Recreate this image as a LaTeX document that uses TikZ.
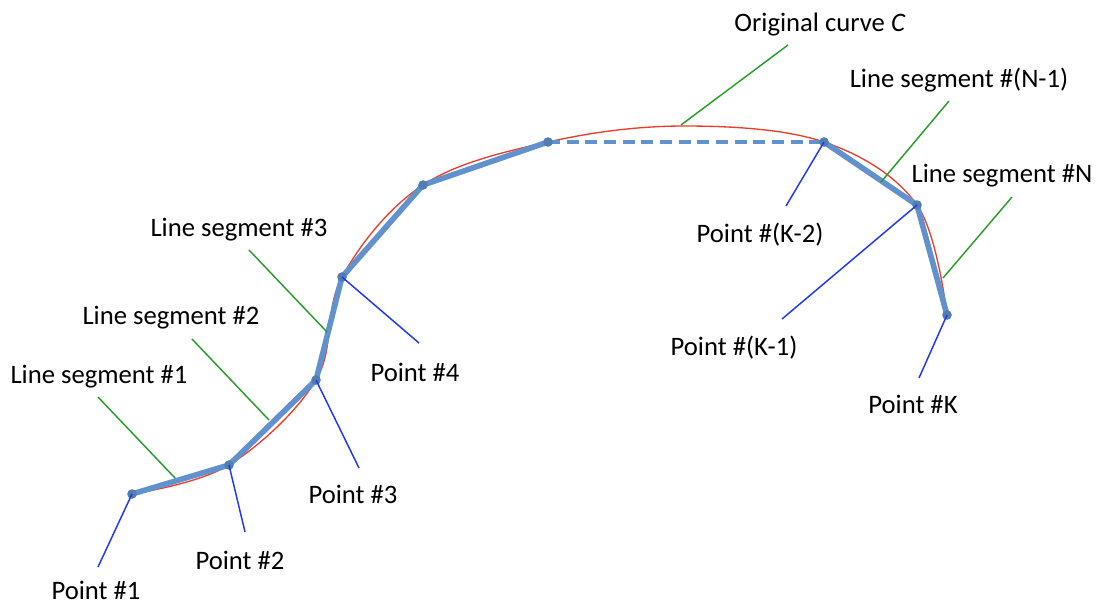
\documentclass[tikz,border=0pt]{standalone}
\usepackage{fontspec}
\setmainfont{Carlito}
\definecolor{polyblue}{RGB}{98,146,206}
\definecolor{curvered}{RGB}{238,60,40}
\definecolor{leadgreen}{RGB}{40,158,40}
\definecolor{leadblue}{RGB}{30,55,250}
\begin{document}
\begin{tikzpicture}[x=0.75pt,y=-0.75pt,
	curveC/.style={draw=curvered,line width=1pt},
	poly/.style={draw=polyblue,line width=4.2pt,line join=round},
	polydash/.style={draw=polyblue,line width=3.2pt,dash pattern=on 9pt off 5pt},
	segleader/.style={draw=leadgreen,line width=1.1pt},
	ptleader/.style={draw=leadblue,line width=1.1pt},
	vertex/.style={fill=polyblue!85!black},
	lbl/.style={anchor=base,inner sep=0pt,font=\fontsize{20}{24}\selectfont}]
	\useasboundingbox (0,0) rectangle (1098,604);
	% sample points
	\coordinate (p1) at (132,494);
	\coordinate (p2) at (229,465);
	\coordinate (p3) at (316,380);
	\coordinate (p4) at (342,277);
	\coordinate (p5) at (423,185);
	\coordinate (p6) at (548,142);
	\coordinate (top) at (684,126);
	\coordinate (pk2) at (824,142);
	\coordinate (pk1) at (917,205);
	\coordinate (pk) at (947,315);
	% original curve
	\draw[curveC] plot[smooth,tension=0.6] coordinates {(p1) (p2) (p3) (p4) (p5) (p6) (top) (pk2) (pk1) (pk)};
	% polyline
	\draw[poly] (p1) -- (p2) -- (p3) -- (p4) -- (p5) -- (p6);
	\draw[polydash] (p6) -- (pk2);
	\draw[poly] (pk2) -- (pk1) -- (pk);
	\fill[vertex] (p1) circle[radius=3.6pt];
	\fill[vertex] (p2) circle[radius=3.6pt];
	\fill[vertex] (p3) circle[radius=3.6pt];
	\fill[vertex] (p4) circle[radius=3.6pt];
	\fill[vertex] (p5) circle[radius=3.6pt];
	\fill[vertex] (p6) circle[radius=3.6pt];
	\fill[vertex] (pk2) circle[radius=3.6pt];
	\fill[vertex] (pk1) circle[radius=3.6pt];
	\fill[vertex] (pk) circle[radius=3.6pt];
	% labels
	\node[lbl] (ls1) at (99,383) {Line segment \#1};
	\node[lbl] (ls2) at (171,324) {Line segment \#2};
	\node[lbl] (ls3) at (239,236) {Line segment \#3};
	\node[lbl] (lsn1) at (959,87) {Line segment \#(N-1)};
	\node[lbl] (lsn) at (1002,182) {Line segment \#N};
	\node[lbl] (orig) at (820,31) {Original curve \textit{C}};
	\node[lbl] (lp1) at (96,599) {Point \#1};
	\node[lbl] (lp2) at (240,569) {Point \#2};
	\node[lbl] (lp3) at (353,503) {Point \#3};
	\node[lbl] (lp4) at (415,381) {Point \#4};
	\node[lbl] (lpk2) at (760,242) {Point \#(K-2)};
	\node[lbl] (lpk1) at (734,355) {Point \#(K-1)};
	\node[lbl] (lpk) at (913,413) {Point \#K};
	% leader ends
	\coordinate (g1a) at (98,397);   \coordinate (g1b) at (175,478);
	\coordinate (g2a) at (192,339);  \coordinate (g2b) at (269,420);
	\coordinate (g3a) at (249,250);  \coordinate (g3b) at (327,332);
	\coordinate (goa) at (788,45);   \coordinate (gob) at (681,125);
	\coordinate (gn1a) at (949,101); \coordinate (gn1b) at (881,182);
	\coordinate (gna) at (1012,197); \coordinate (gnb) at (943,278);
	\coordinate (b1) at (98,567);
	\coordinate (b2) at (245,532);
	\coordinate (b3) at (359,468);
	\coordinate (b4) at (419,343);
	\coordinate (bk2) at (786,206);
	\coordinate (bk1) at (782,319);
	\coordinate (bk) at (919,378);
	% green leaders
	\draw[segleader] (g1a) -- (g1b);
	\draw[segleader] (g2a) -- (g2b);
	\draw[segleader] (g3a) -- (g3b);
	\draw[segleader] (goa) -- (gob);
	\draw[segleader] (gn1a) -- (gn1b);
	\draw[segleader] (gna) -- (gnb);
	% blue leaders
	\draw[ptleader] (p1) -- (b1);
	\draw[ptleader] (p2) -- (b2);
	\draw[ptleader] (p3) -- (b3);
	\draw[ptleader] (p4) -- (b4);
	\draw[ptleader] (pk2) -- (bk2);
	\draw[ptleader] (pk1) -- (bk1);
	\draw[ptleader] (pk) -- (bk);
\end{tikzpicture}
\end{document}
